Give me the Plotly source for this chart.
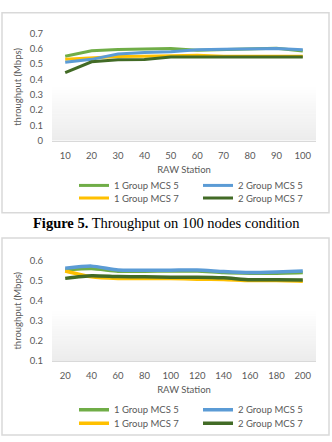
import plotly.graph_objects as go

W, H = 332, 442

# ---------------- data ----------------
stations_100 = ["10", "20", "30", "40", "50", "60", "70", "80", "90", "100"]
g1_mcs5_100 = [0.550, 0.586, 0.594, 0.599, 0.600, 0.590, 0.595, 0.600, 0.603, 0.585]
g2_mcs5_100 = [0.511, 0.530, 0.565, 0.575, 0.580, 0.592, 0.596, 0.598, 0.600, 0.593]
g1_mcs7_100 = [0.530, 0.540, 0.548, 0.550, 0.555, 0.556, 0.550, 0.550, 0.550, 0.550]
g2_mcs7_100 = [0.444, 0.514, 0.527, 0.529, 0.546, 0.546, 0.546, 0.546, 0.546, 0.546]

stations_200 = ["20", "40", "60", "80", "100", "120", "140", "160", "180", "200"]
g1_mcs5_200 = [0.553, 0.560, 0.547, 0.547, 0.548, 0.548, 0.540, 0.537, 0.537, 0.540]
g2_mcs5_200 = [0.562, 0.572, 0.553, 0.552, 0.552, 0.553, 0.545, 0.540, 0.543, 0.548]
g1_mcs7_200 = [0.548, 0.519, 0.511, 0.510, 0.510, 0.507, 0.505, 0.500, 0.500, 0.497]
g2_mcs7_200 = [0.511, 0.524, 0.520, 0.519, 0.516, 0.517, 0.514, 0.504, 0.504, 0.503]

series_names = ["1 Group MCS 5", "1 Group MCS 7", "2 Group MCS 5", "2 Group MCS 7"]
colors = ["#70AD47", "#FFC000", "#5B9BD5", "#426B26"]
# legend placement: row (0 = MCS 5, 1 = MCS 7), rank within row
legend_row = [0, 1, 0, 1]
legend_rank = [1, 1, 2, 2]

y_title = "throughput (Mbps)"
x_title = "RAW Station"
caption = "<b>Figure 5.</b> Throughput on 100 nodes condition"

FONT = "Lato"
GRAY_TXT = "#595959"
GRID = "#D9D9D9"


def px_x(p):
    return p / W


def px_y(p):
    return 1 - p / H


fig = go.Figure()

charts = [
    dict(cats=stations_100, vals=[g1_mcs5_100, g1_mcs7_100, g2_mcs5_100, g2_mcs7_100],
         xa="x", ya="y", legends=("legend", "legend2"), width=3, shape="linear",
         grid_top=0.76),
    dict(cats=stations_200, vals=[g1_mcs5_200, g1_mcs7_200, g2_mcs5_200, g2_mcs7_200],
         xa="x2", ya="y2", legends=("legend3", "legend4"), width=3.5, shape="spline",
         grid_top=0.8),
]

for ch in charts:
    for i, name in enumerate(series_names):
        fig.add_trace(go.Scatter(
            x=ch["cats"], y=ch["vals"][i], name=name, mode="lines",
            line=dict(color=colors[i], width=ch["width"], shape=ch["shape"], smoothing=0.6),
            xaxis=ch["xa"], yaxis=ch["ya"],
            legend=ch["legends"][legend_row[i]], legendrank=legend_rank[i],
        ))

# ---------------- layout ----------------
plot_x = [px_x(52), px_x(316)]
dom1 = [px_y(138), px_y(28)]
dom2 = [px_y(364), px_y(261)]

xcommon = dict(type="category", range=[-0.5, 9.5], showgrid=False,
               showline=True, linecolor=GRID, linewidth=1, ticks="outside", ticklen=6,
               tickcolor="rgba(0,0,0,0)", tickfont=dict(family=FONT, size=9.5, color=GRAY_TXT),
               zeroline=False, fixedrange=True)
ycommon = dict(showgrid=False, zeroline=False, showline=False, dtick=0.1, ticks="outside",
               ticklen=6, tickcolor="rgba(0,0,0,0)",
               tickfont=dict(family=FONT, size=9.5, color=GRAY_TXT), fixedrange=True)

legcommon = dict(orientation="h", xanchor="left", yanchor="middle", x=px_x(74),
                 font=dict(family=FONT, size=9.5, color=GRAY_TXT), bgcolor="rgba(0,0,0,0)",
                 entrywidth=79, entrywidthmode="pixels", traceorder="normal",
                 itemclick=False, itemdoubleclick=False)

fig.update_layout(
    width=W, height=H, margin=dict(l=0, r=0, t=0, b=0),
    paper_bgcolor="white", plot_bgcolor="white",
    xaxis=dict(domain=plot_x, anchor="y", **xcommon,
               title=dict(text=x_title, font=dict(family=FONT, size=9.5, color=GRAY_TXT), standoff=6)),
    yaxis=dict(domain=dom1, anchor="x", range=[0, 0.7], **ycommon,
               title=dict(text=y_title, font=dict(family=FONT, size=9.5, color=GRAY_TXT), standoff=6)),
    xaxis2=dict(domain=plot_x, anchor="y2", **xcommon,
                title=dict(text=x_title, font=dict(family=FONT, size=9.5, color=GRAY_TXT), standoff=6)),
    yaxis2=dict(domain=dom2, anchor="x2", range=[0.1, 0.6], **ycommon,
                title=dict(text=y_title, font=dict(family=FONT, size=9.5, color=GRAY_TXT), standoff=6)),
    legend=dict(y=px_y(184), **legcommon),
    legend2=dict(y=px_y(197), **legcommon),
    legend3=dict(y=px_y(414), **legcommon),
    legend4=dict(y=px_y(428), **legcommon),
    showlegend=True,
)

shapes = []
# chart frames
for top, bottom in [(7, 212), (238, 440)]:
    shapes.append(dict(type="rect", xref="paper", yref="paper",
                       x0=px_x(2), x1=px_x(329), y0=px_y(bottom), y1=px_y(top),
                       line=dict(color="#D9D9D9", width=1.5), fillcolor="rgba(0,0,0,0)", layer="below"))

N = 20
for ch in charts:
    xa, ya = ch["xa"], ch["ya"]
    # gray gradient fading up from the bottom of the plot area
    for k in range(N):
        y0 = 0.5 * k / N
        y1 = 0.5 * (k + 1) / N
        a = 0.075 * (1 - k / N)
        shapes.append(dict(type="rect", xref=f"{xa} domain", yref=f"{ya} domain",
                           x0=0, x1=1, y0=y0, y1=y1, line=dict(width=0),
                           fillcolor=f"rgba(0,0,0,{a:.4f})", layer="below"))
    # vertical category gridlines, fading out towards the top
    gt = ch["grid_top"]
    for c in ch["cats"]:
        shapes.append(dict(type="line", xref=xa, yref=f"{ya} domain", x0=c, x1=c, y0=0, y1=gt,
                           line=dict(color=GRID, width=1.3), layer="below"))
        for s in range(4):
            shapes.append(dict(type="line", xref=xa, yref=f"{ya} domain", x0=c, x1=c,
                               y0=gt + 0.025 * s, y1=gt + 0.025 * (s + 1),
                               line=dict(color=GRID, width=1.3), opacity=0.8 - 0.2 * s,
                               layer="below"))

fig.update_layout(shapes=shapes)

fig.add_annotation(text=caption, xref="paper", yref="paper", x=0.5, y=px_y(223),
                   xanchor="center", yanchor="middle", showarrow=False,
                   font=dict(family="Liberation Serif", size=14.5, color="black"))

fig.write_html("out.html")
